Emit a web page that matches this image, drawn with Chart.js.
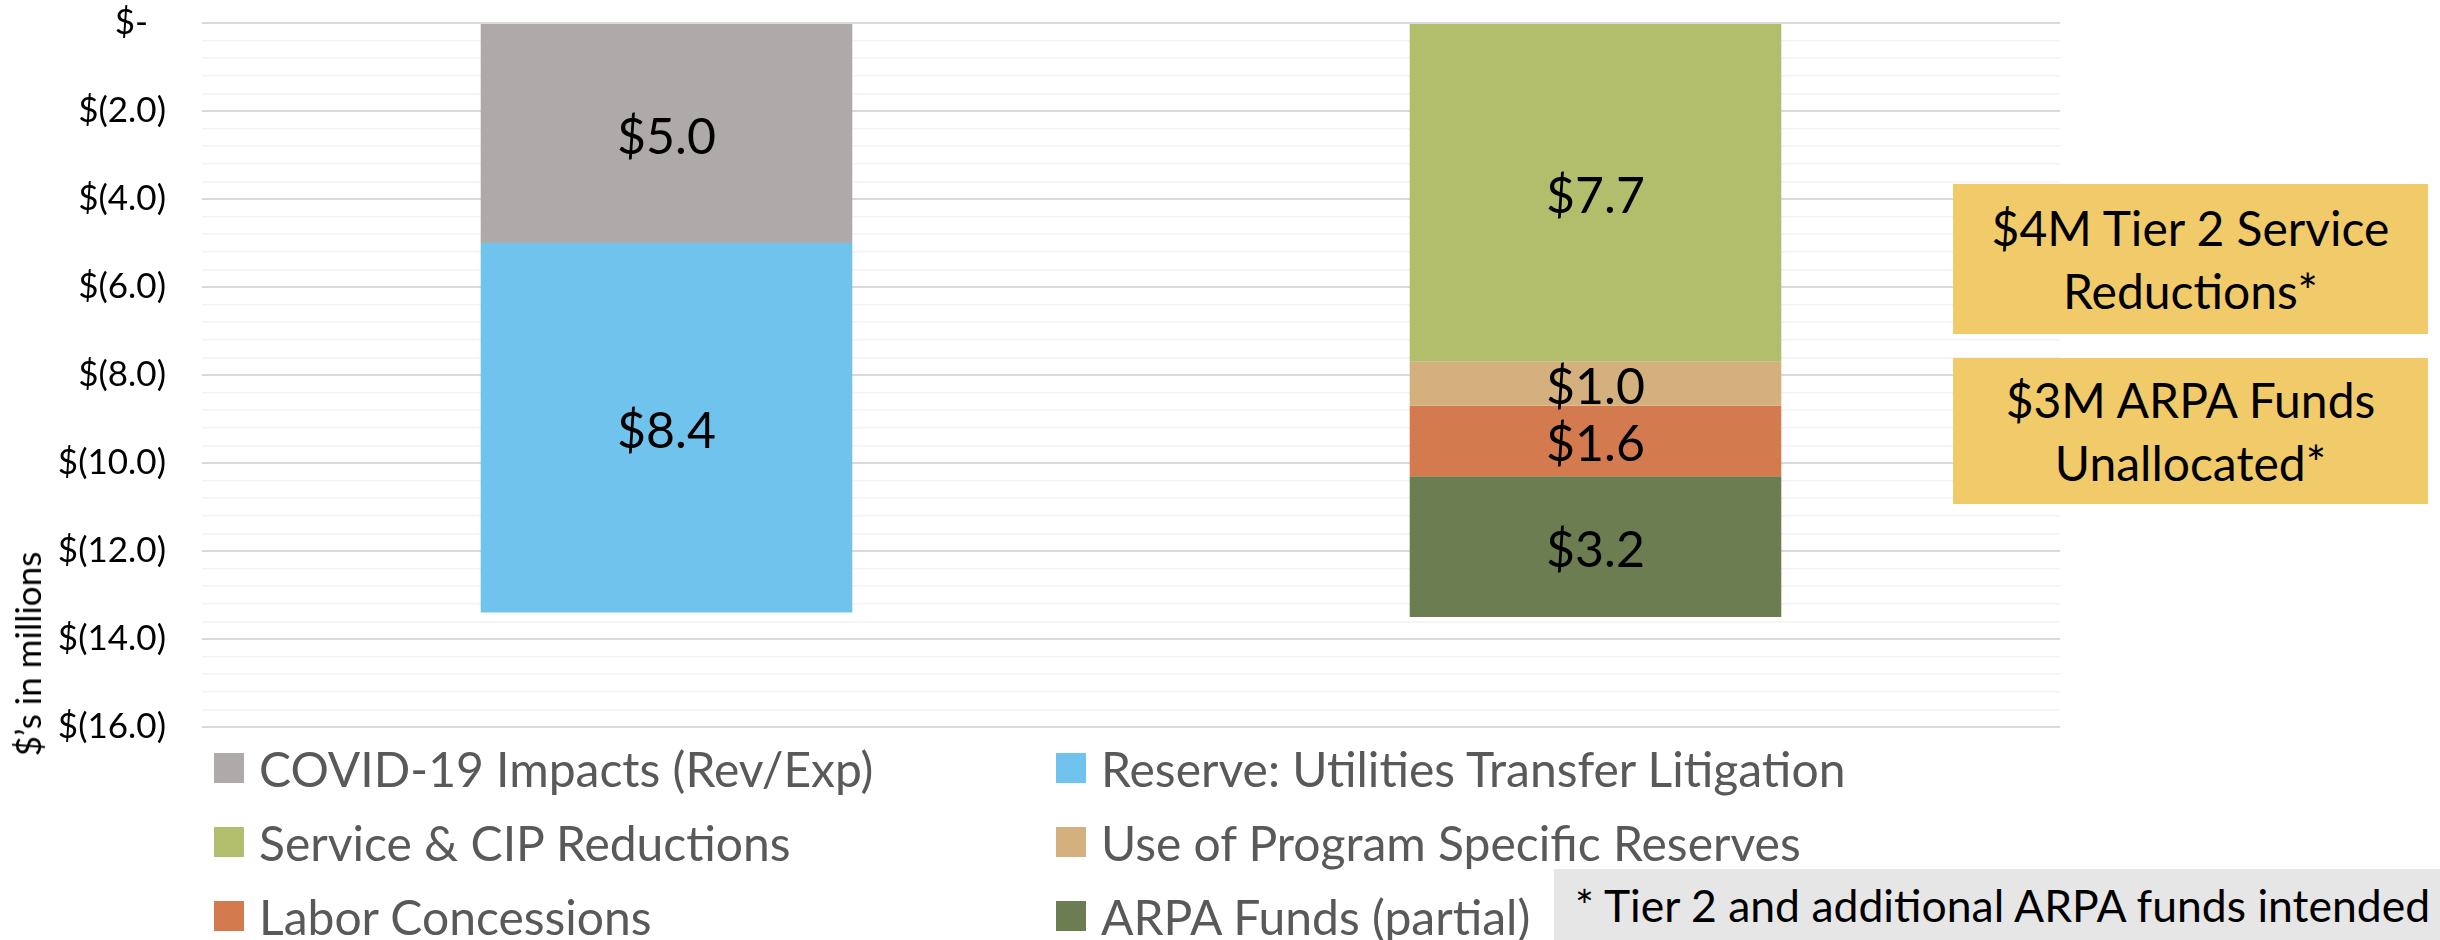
<!DOCTYPE html>
<html>
<head>
<meta charset="utf-8">
<title>Budget gap and solutions</title>
<script src="https://cdn.jsdelivr.net/npm/chart.js@4.4.1/dist/chart.umd.min.js"></script>
<style>
  body { margin: 0; background: #fff; overflow: hidden; }
  #wrap { position: relative; width: 2440px; height: 940px; font-family: Lato, sans-serif; }
  #chart { position: absolute; left: 0; top: 0; }
  #ytitle { position: absolute; left: 27px; top: 654px; transform: translate(-50%, -50%) rotate(-90deg); font-size: 35px; color: #000; white-space: nowrap; }
  #legend { position: absolute; left: 214px; top: 739px; display: grid; grid-template-columns: 842px 760px; grid-auto-rows: 74px; }
  .item { display: flex; align-items: center; height: 58px; font-size: 48px; color: #595959; white-space: nowrap; }
  .swatch { width: 30px; height: 30px; margin-right: 15px; flex: none; }
  .note { position: absolute; left: 1953px; width: 475px; background: #f1cb69; display: flex; align-items: center; justify-content: center; text-align: center; font-size: 48px; line-height: 63px; color: #000; }
  #foot { position: absolute; left: 1554px; top: 869px; width: 886px; height: 71px; background: #e7e6e6; display: flex; align-items: center; padding-left: 21px; box-sizing: border-box; font-size: 44.5px; color: #000; white-space: nowrap; overflow: hidden; }
</style>
</head>
<body>
<div id="wrap">
  <canvas id="chart" width="2440" height="940"></canvas>
  <div id="ytitle">$’s in millions</div>
  <div id="legend"></div>
  <div class="note" style="top:184px;height:150px">$4M Tier 2 Service<br>Reductions*</div>
  <div class="note" style="top:358px;height:146px">$3M ARPA Funds<br>Unallocated*</div>
  <div id="foot">* Tier 2 and additional ARPA funds intended</div>
</div>
<script>
// two stacks: the gap on the left, the solutions on the right ($ millions)
const categories = ['Budget Gap', 'Solutions'];

const covidImpacts     = [-5.0, null];
const utilitiesReserve = [-8.4, null];
const serviceCip       = [null, -7.7];
const programReserves  = [null, -1.0];
const laborConcessions = [null, -1.6];
const arpaPartial      = [null, -3.2];

const seriesNames = [
    'COVID-19 Impacts (Rev/Exp)',
    'Reserve: Utilities Transfer Litigation',
    'Service & CIP Reductions',
    'Use of Program Specific Reserves',
    'Labor Concessions',
    'ARPA Funds (partial)'
];
const seriesColors = ['#aeaaaa', '#6fc3ed', '#b3be6d', '#d3b07d', '#d47a4f', '#6b7d51'];

const yTickLabels = ['$-  ', '$(2.0)', '$(4.0)', '$(6.0)', '$(8.0)', '$(10.0)', '$(12.0)', '$(14.0)', '$(16.0)'];

const seriesValues = [covidImpacts, utilitiesReserve, serviceCip, programReserves, laborConcessions, arpaPartial];


function isMajor(v) {
    return Math.round(v * 10) % 20 === 0
}


const segmentLabels = {
    id: 'segmentLabels',
    afterDatasetsDraw(chart) {
        const ctx = chart.ctx
        ctx.save()
        ctx.font = '50px Lato'
        ctx.fillStyle = '#000'
        ctx.textAlign = 'center'
        ctx.textBaseline = 'middle'
        chart.data.datasets.forEach((ds, i) => {
            chart.getDatasetMeta(i).data.forEach((bar, j) => {
                const v = ds.data[j]
                if (v == null) return
                ctx.fillText('$' + Math.abs(v).toFixed(1), bar.x, (bar.y + bar.base) / 2 + 4)
            })
        })
        ctx.restore()
    }
};


const chart = new Chart(document.getElementById('chart'), {
    type: 'bar',
    data: {
        labels: categories,
        datasets: seriesNames.map((name, i) => ({
            label: name,
            data: seriesValues[i],
            backgroundColor: seriesColors[i],
            borderWidth: 0,
            categoryPercentage: 1,
            barPercentage: 0.4
        }))
    },
    options: {
        responsive: false,
        animation: false,
        layout: { padding: { top: 23, right: 380, bottom: 213, left: 0 } },
        plugins: {
            legend: { display: false },
            tooltip: { enabled: false }
        },
        scales: {
            x: {
                stacked: true,
                display: false
            },
            y: {
                stacked: true,
                min: -16,
                max: 0,
                border: { display: false },
                grid: {
                    drawTicks: false,
                    color: (c) => isMajor(c.tick.value) ? '#d9d9d9' : '#f2f2f2',
                    lineWidth: (c) => isMajor(c.tick.value) ? 2 : 1.5
                },
                ticks: {
                    stepSize: 0.4,
                    autoSkip: false,
                    padding: 36,
                    color: '#000',
                    font: { family: 'Lato', size: 35 },
                    callback: (v) => isMajor(v) ? yTickLabels[Math.round(-v / 2)] : ''
                },
                afterFit: (scale) => {
                    scale.width = 202
                    scale.paddingTop = 0
                    scale.paddingBottom = 0
                }
            }
        }
    },
    plugins: [segmentLabels]
});


// legend in two columns, built from the datasets
const $legend = document.getElementById('legend');
chart.data.datasets.forEach((ds) => {
    const item = document.createElement('div')
    item.className = 'item'
    const sw = document.createElement('span')
    sw.className = 'swatch'
    sw.style.background = ds.backgroundColor
    item.appendChild(sw)
    item.appendChild(document.createTextNode(ds.label))
    $legend.appendChild(item)
});
</script>
</body>
</html>
